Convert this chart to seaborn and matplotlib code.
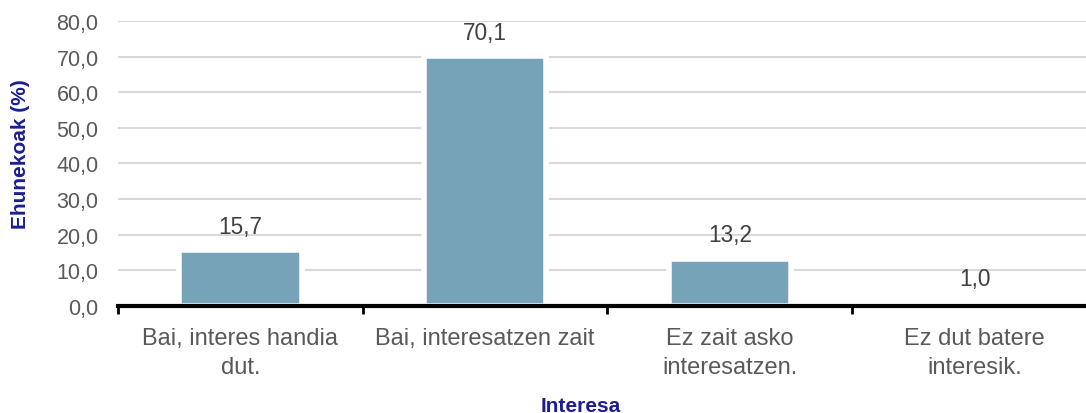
import numpy as np
import pandas as pd
import matplotlib
matplotlib.use("Agg")
import matplotlib.pyplot as plt
import seaborn as sns

# data
categories = ["Bai, interes handia\ndut.", "Bai, interesatzen zait",
              "Ez zait asko\ninteresatzen.", "Ez dut batere\ninteresik."]
percentages = [15.7, 70.1, 13.2, 1.0]
y_ticks = [0, 10, 20, 30, 40, 50, 60, 70, 80]

sns.set_theme(style="white")
plt.rcParams["font.family"] = ["Liberation Sans", "DejaVu Sans"]

df = pd.DataFrame({"interesa": categories, "ehunekoak": percentages})

fig = plt.figure(figsize=(10.86, 4.14), dpi=100)
ax = fig.add_axes([0.1087, 0.2585, 0.9013, 0.6884])

sns.barplot(data=df, x="interesa", y="ehunekoak", color="#76a3b8",
            saturation=1, width=0.5, edgecolor="white", linewidth=4,
            zorder=2, ax=ax)

ax.set_xlim(-0.5, len(categories) - 0.5)
ax.set_ylim(0, 80)
ax.set_yticks(y_ticks)
ax.set_yticklabels([f"{t:.1f}".replace(".", ",") for t in y_ticks])
ax.yaxis.grid(True, color="#d9d9d9", linewidth=1.5, zorder=0)
ax.set_axisbelow(True)

for s in ["top", "right", "left"]:
    ax.spines[s].set_visible(False)
ax.spines["bottom"].set_color("black")
ax.spines["bottom"].set_linewidth(3)
ax.spines["bottom"].set_zorder(3)

# tick marks between categories, labels centred under the bars
ax.set_xticks(np.arange(-0.5, len(categories)), minor=True)
ax.tick_params(axis="x", which="minor", length=6, width=2, color="black",
               direction="out", bottom=True)
ax.tick_params(axis="x", which="major", length=0, pad=15,
               labelsize=17, labelcolor="#595959")
for lbl in ax.get_xticklabels():
    lbl.set_linespacing(1.4)
ax.tick_params(axis="y", length=0, pad=14, labelsize=15.5,
               labelcolor="#595959")

for i, v in enumerate(percentages):
    ax.annotate(f"{v:.1f}".replace(".", ","), (i, v), xytext=(0, 9),
                textcoords="offset points", ha="center", va="bottom",
                fontsize=16.3, color="#404040")

ax.set_xlabel("Interesa", fontsize=15, fontweight="bold", color="#1c1c94")
ax.set_ylabel("Ehunekoak (%)", fontsize=15, fontweight="bold", color="#1c1c94")
ax.xaxis.set_label_coords(0.473, -0.316)
ax.yaxis.set_label_coords(-0.09, 0.537)

fig.savefig("out.png", dpi=100)
plt.close()
